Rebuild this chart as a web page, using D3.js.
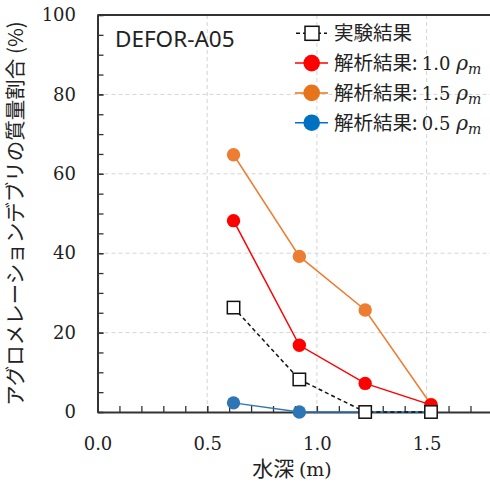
<!DOCTYPE html>
<html>
<head>
<meta charset="utf-8">
<script src="https://cdn.jsdelivr.net/npm/d3@7"></script>
<style>
  html, body { margin: 0; padding: 0; background: #fff; }
  svg { display: block; }
</style>
</head>
<body>
<svg id="chart" width="490" height="486"></svg>
<script>
// Water depth (m) at each measurement point
const depths = [0.62, 0.92, 1.22, 1.52];
// Agglomerated debris mass fraction (%)
const experiment = [26.3, 8.2, 0, 0];
const analysis10 = [48.2, 16.8, 7.2, 1.8];
const analysis15 = [64.8, 39.2, 25.7, 1.9];
const analysis05 = [2.3, 0, 0, 0];

const xTicks = [0, 0.5, 1.0, 1.5];
const yTicks = [0, 20, 40, 60, 80, 100];

const seriesNames = ["実験結果", "解析結果: ", "解析結果: ", "解析結果: "];
const seriesRho = [null, "1.0", "1.5", "0.5"];

const CJK = "'Noto Sans CJK JP', 'Noto Sans', sans-serif";
const SERIF = "'DejaVu Serif', 'Liberation Serif', serif";

const svg = d3.select("#chart");
const plotLeft = 97.5, plotTop = 15, plotBottom = 412;
const x = d3.scaleLinear().domain([0, 1.8]).range([plotLeft, plotLeft + 1.8 * 219.4]);
const y = d3.scaleLinear().domain([0, 100]).range([plotBottom, plotTop]);

// dashed major grid
const grid = svg.append("g").attr("stroke", "#d4d4d4").attr("stroke-width", 1).attr("stroke-dasharray", "4,3");
grid.selectAll("line.gx").data(xTicks.filter(d => d > 0)).join("line")
  .attr("x1", d => x(d)).attr("x2", d => x(d)).attr("y1", plotTop).attr("y2", plotBottom);
grid.selectAll("line.gy").data(yTicks.filter(d => d > 0 && d < 100)).join("line")
  .attr("y1", d => y(d)).attr("y2", d => y(d)).attr("x1", plotLeft).attr("x2", 490);

// top frame line
svg.append("line").attr("x1", plotLeft).attr("x2", 490).attr("y1", plotTop).attr("y2", plotTop)
  .attr("stroke", "#333").attr("stroke-width", 2);

// minor ticks (inward)
const yMinor = d3.range(0, 101, 5);
const xMinor = d3.range(0, 18.01, 1).map(d => d / 10);
svg.append("g").attr("transform", `translate(${plotLeft},0)`)
  .call(d3.axisLeft(y).tickValues(yMinor).tickSizeInner(-6).tickSizeOuter(0).tickFormat(""))
  .call(g => g.select(".domain").remove())
  .call(g => g.selectAll("line").attr("stroke", "#333").attr("stroke-width", 1.3));
svg.append("g").attr("transform", `translate(0,${plotBottom})`)
  .call(d3.axisBottom(x).tickValues(xMinor).tickSizeInner(-6).tickSizeOuter(0).tickFormat(""))
  .call(g => g.select(".domain").remove())
  .call(g => g.selectAll("line").attr("stroke", "#333").attr("stroke-width", 1.3));

// major axes with labels
const yAxis = svg.append("g").attr("transform", `translate(${plotLeft},0)`)
  .call(d3.axisLeft(y).tickValues(yTicks).tickSizeInner(-6).tickSizeOuter(0).tickPadding(21.5).tickFormat(d3.format("d")));
const xAxis = svg.append("g").attr("transform", `translate(0,${plotBottom})`)
  .call(d3.axisBottom(x).tickValues(xTicks).tickSizeInner(-6).tickSizeOuter(0).tickPadding(25).tickFormat(d3.format(".1f")));
[yAxis, xAxis].forEach(g => {
  g.select(".domain").attr("stroke", "#333").attr("stroke-width", 2);
  g.selectAll("line").attr("stroke", "#333").attr("stroke-width", 1.3);
  g.selectAll("text").attr("font-family", SERIF).attr("font-size", 18).attr("fill", "#222");
});

// axis titles
const xt = svg.append("text").attr("x", 292).attr("y", 476).attr("text-anchor", "middle")
  .attr("fill", "#222").attr("font-size", 21);
xt.append("tspan").attr("font-family", CJK).text("水深 ");
xt.append("tspan").attr("font-family", SERIF).attr("font-size", 19).text("(m)");

svg.append("text").attr("transform", `translate(14,${(plotTop + plotBottom) / 2}) rotate(-90)`)
  .attr("text-anchor", "middle").attr("dominant-baseline", "central")
  .attr("font-family", CJK).attr("font-size", 20.5).attr("fill", "#222")
  .text("アグロメレーションデブリの質量割合 (%)");

// case label
svg.append("text").attr("x", 115).attr("y", 47).attr("font-family", "'Noto Sans', 'Open Sans', sans-serif")
  .attr("font-size", 22.5).attr("fill", "#222").text("DEFOR-A05");

// series
const line = d3.line().x((d, i) => x(depths[i])).y(d => y(d));
const circleSeries = [
  { values: analysis05, color: "#2E75B6" },
  { values: analysis15, color: "#ED7D31" },
  { values: analysis10, color: "#FF0000" }
];
circleSeries.forEach(s => {
  svg.append("path").datum(s.values).attr("d", line).attr("fill", "none")
    .attr("stroke", s.color).attr("stroke-width", 1.5);
  svg.append("g").selectAll("circle").data(s.values).join("circle")
    .attr("cx", (d, i) => x(depths[i])).attr("cy", d => y(d)).attr("r", 6.7).attr("fill", s.color);
});
svg.append("path").datum(experiment).attr("d", line).attr("fill", "none")
  .attr("stroke", "#111").attr("stroke-width", 1.5).attr("stroke-dasharray", "4,3");
svg.append("g").selectAll("rect").data(experiment).join("rect")
  .attr("x", (d, i) => x(depths[i]) - 6.2).attr("y", d => y(d) - 6.2)
  .attr("width", 12.4).attr("height", 12.4).attr("fill", "#fff").attr("stroke", "#111").attr("stroke-width", 1.5);

// legend
const legendColors = ["#111", "#FF0000", "#E8741A", "#0070C0"];
const lg = svg.append("g");
seriesNames.forEach((name, i) => {
  const cy = 33.3 + i * 29.8;
  const row = lg.append("g");
  if (i === 0) {
    row.append("line").attr("x1", 296).attr("x2", 327).attr("y1", cy).attr("y2", cy)
      .attr("stroke", "#111").attr("stroke-width", 1.5).attr("stroke-dasharray", "4,3");
    row.append("rect").attr("x", 305).attr("y", cy - 7).attr("width", 14).attr("height", 14)
      .attr("fill", "#fff").attr("stroke", "#111").attr("stroke-width", 1.5);
  } else {
    row.append("line").attr("x1", 295).attr("x2", 328).attr("y1", cy).attr("y2", cy)
      .attr("stroke", legendColors[i]).attr("stroke-width", 1.5);
    row.append("circle").attr("cx", 311.7).attr("cy", cy).attr("r", 8.3).attr("fill", legendColors[i]);
  }
  const t = row.append("text").attr("x", 334).attr("y", cy + 7).attr("fill", "#222").attr("font-size", 19.5);
  t.append("tspan").attr("font-family", CJK).text(name);
  if (seriesRho[i]) {
    t.append("tspan").attr("font-family", SERIF).attr("font-size", 18).text(seriesRho[i] + "  ");
    t.append("tspan").attr("font-family", SERIF).attr("font-style", "italic").attr("font-size", 20).text("ρ");
    t.append("tspan").attr("font-family", SERIF).attr("font-style", "italic").attr("font-size", 14).attr("dy", 4).text("m");
  }
});
</script>
</body>
</html>
